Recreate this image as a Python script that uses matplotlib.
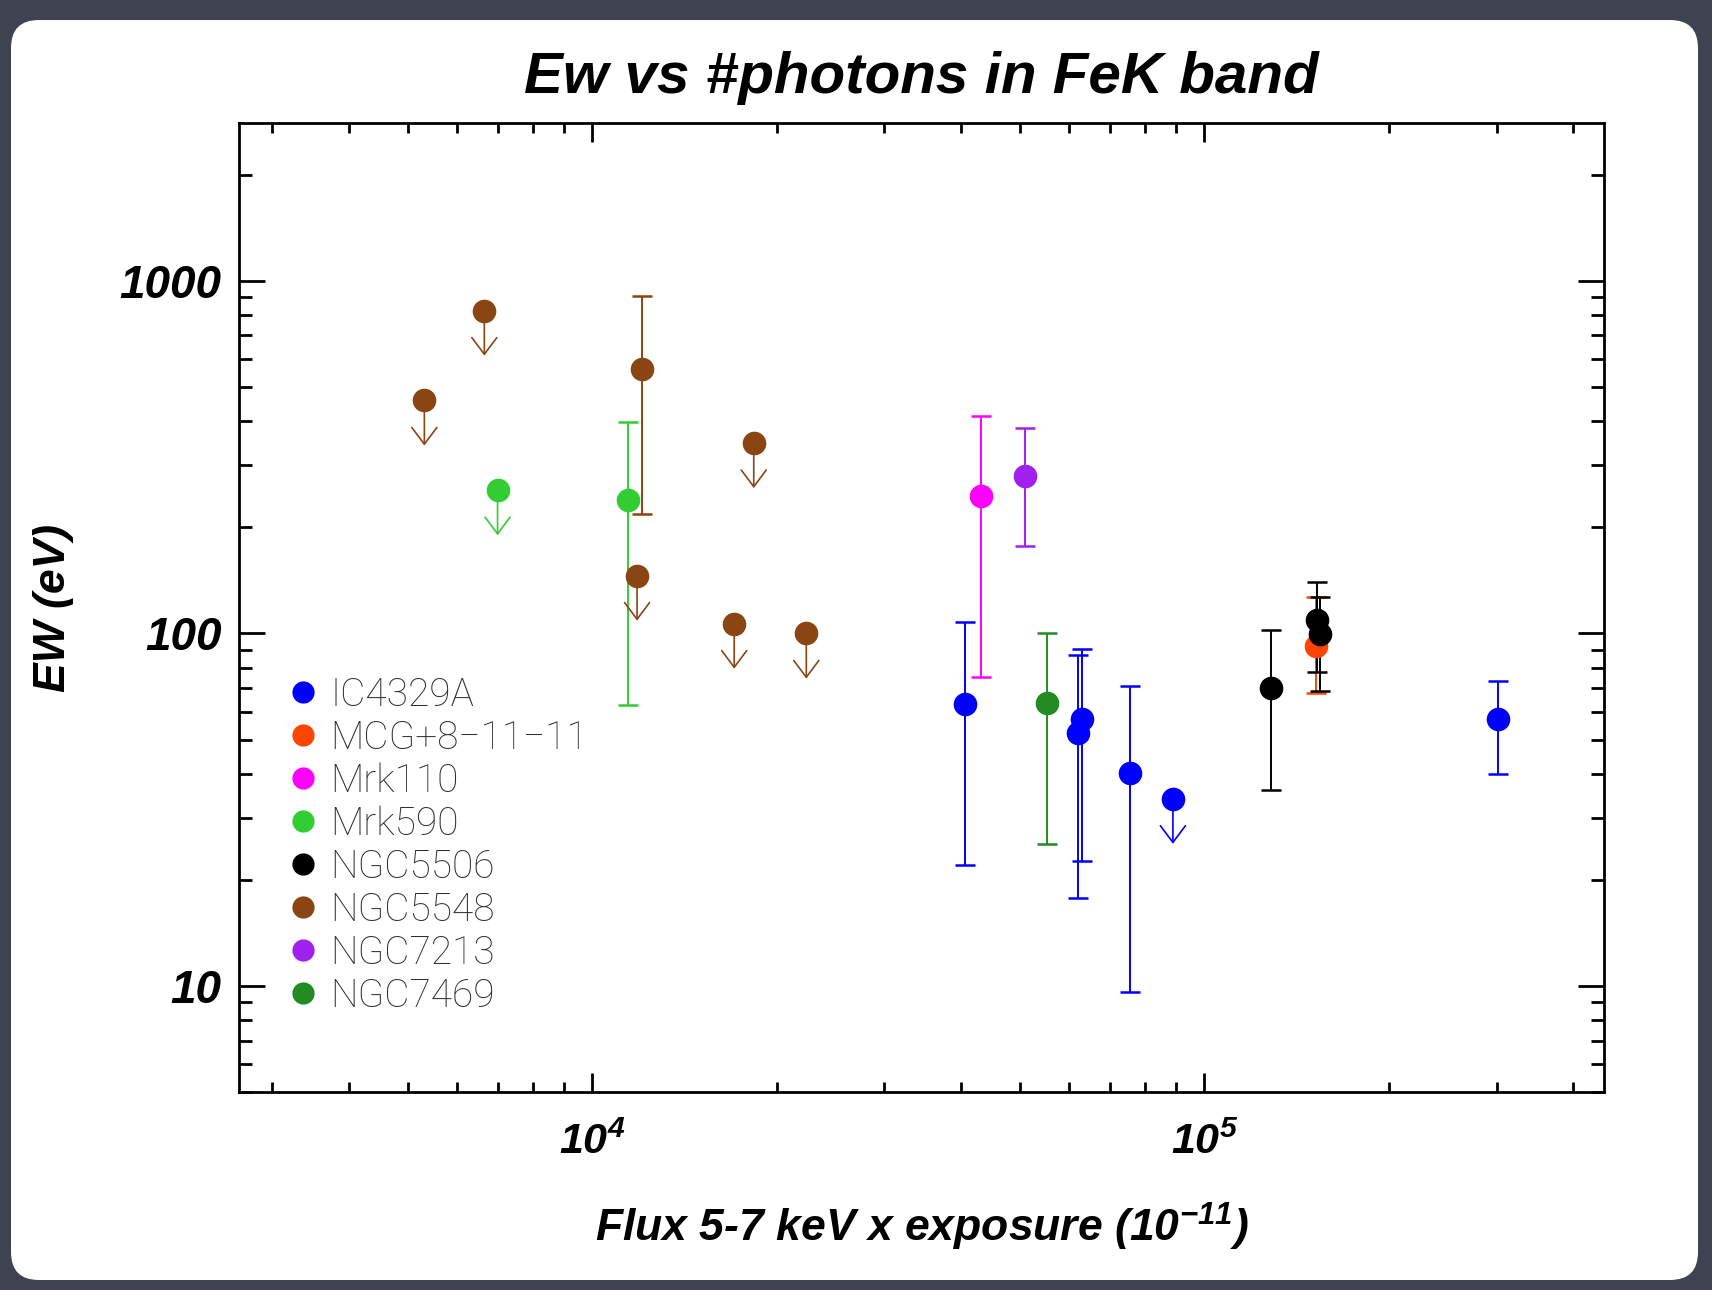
import numpy as np
import matplotlib.pyplot as plt
from matplotlib.patches import FancyBboxPatch
from matplotlib.lines import Line2D
from matplotlib.transforms import IdentityTransform
from matplotlib.ticker import FixedLocator, FixedFormatter, NullFormatter

plt.rcParams['font.family'] = 'Liberation Sans'
plt.rcParams['font.style'] = 'italic'
plt.rcParams['font.weight'] = 'bold'
plt.rcParams['axes.labelweight'] = 'bold'
plt.rcParams['mathtext.fontset'] = 'custom'
plt.rcParams['mathtext.rm'] = 'Liberation Sans:italic:bold'
plt.rcParams['mathtext.it'] = 'Liberation Sans:italic:bold'
plt.rcParams['mathtext.bf'] = 'Liberation Sans:italic:bold'

# sources (legend order) and their colours
sources = ['IC4329A', 'MCG+8\u221211\u221211', 'Mrk110', 'Mrk590',
           'NGC5506', 'NGC5548', 'NGC7213', 'NGC7469']
colors = ['#0000ff', '#ff4500', '#ff00ff', '#32cd32',
          '#000000', '#8b4513', '#a020f0', '#228b22']

# detections: flux*exposure, EW (eV), lower / upper EW bound
det_flux = {
    'IC4329A': [40600, 62100, 63200, 75700, 302000],
    'MCG+8\u221211\u221211': [152200],
    'Mrk110': [43200],
    'Mrk590': [11450],
    'NGC5506': [128500, 152900, 154600],
    'NGC5548': [12030],
    'NGC7213': [51000],
    'NGC7469': [55400],
}
det_ew = {
    'IC4329A': [62.9, 52.2, 57.3, 40.3, 57.3],
    'MCG+8\u221211\u221211': [92.4],
    'Mrk110': [246],
    'Mrk590': [239],
    'NGC5506': [69.9, 109.3, 99.7],
    'NGC5548': [564],
    'NGC7213': [280],
    'NGC7469': [63.4],
}
det_ew_lo = {
    'IC4329A': [22.1, 17.8, 22.7, 9.6, 40.0],
    'MCG+8\u221211\u221211': [68.0],
    'Mrk110': [75.4],
    'Mrk590': [62.8],
    'NGC5506': [36.0, 77.6, 68.8],
    'NGC5548': [218],
    'NGC7213': [176.6],
    'NGC7469': [25.3],
}
det_ew_hi = {
    'IC4329A': [107.6, 86.7, 90.5, 71.0, 73.5],
    'MCG+8\u221211\u221211': [126.8],
    'Mrk110': [414],
    'Mrk590': [397],
    'NGC5506': [102, 139.7, 126.8],
    'NGC5548': [905],
    'NGC7213': [383],
    'NGC7469': [100],
}

# upper limits: flux*exposure, EW (eV)
ul_flux = {
    'IC4329A': [88800],
    'Mrk590': [7000],
    'NGC5548': [5315, 6660, 11830, 18350, 17050, 22360],
}
ul_ew = {
    'IC4329A': [34],
    'Mrk590': [255],
    'NGC5548': [458, 824, 146, 347, 106.7, 100],
}

ARROW_DEX = 0.128   # length of upper-limit arrows in decades

fig = plt.figure(figsize=(17.12, 12.9), dpi=100, facecolor='#3f4250')
card = FancyBboxPatch((11, 10), 1687, 1260,
                      boxstyle='round,pad=0,rounding_size=28',
                      transform=IdentityTransform(), fc='white', ec='none',
                      zorder=-10)
fig.add_artist(card)

ax = fig.add_axes([0.1398, 0.1533, 0.7973, 0.7512])
ax.set_xscale('log')
ax.set_yscale('log')

for name, c in zip(sources, colors):
    if name in det_flux:
        y = np.array(det_ew[name])
        lo = np.array(det_ew_lo[name])
        hi = np.array(det_ew_hi[name])
        ax.errorbar(det_flux[name], y, yerr=[y - lo, hi - y], fmt='none',
                    ecolor=c, elinewidth=1.4, capsize=7.5, capthick=1.8,
                    zorder=2)
        ax.plot(det_flux[name], y, 'o', color=c, ms=17, mew=0, zorder=3)
    if name in ul_flux:
        for xv, yv in zip(ul_flux[name], ul_ew[name]):
            ax.annotate('', xy=(xv, yv * 10 ** -ARROW_DEX), xytext=(xv, yv),
                        arrowprops=dict(arrowstyle='->,head_length=0.6,head_width=0.45',
                                        color=c, lw=1.2, mutation_scale=20,
                                        shrinkA=0, shrinkB=0), zorder=2)
        ax.plot(ul_flux[name], ul_ew[name], 'o', color=c, ms=17, mew=0,
                zorder=3)

ax.set_xlim(2650, 4.5e5)
ax.set_ylim(5.0, 2800)

ax.xaxis.set_major_locator(FixedLocator([1e4, 1e5]))
ax.xaxis.set_major_formatter(FixedFormatter([r'$10^{4}$', r'$10^{5}$']))
ax.xaxis.set_minor_formatter(NullFormatter())
ax.yaxis.set_major_locator(FixedLocator([10, 100, 1000]))
ax.yaxis.set_major_formatter(FixedFormatter(['10', '100', '1000']))
ax.yaxis.set_minor_formatter(NullFormatter())

ax.tick_params(which='both', direction='in', top=True, right=True,
               width=2, color='black')
ax.tick_params(axis='x', which='major', length=14, labelsize=31, pad=22)
ax.tick_params(axis='x', which='minor', length=7)
ax.tick_params(axis='y', which='major', length=19, labelsize=33, pad=13)
ax.tick_params(axis='y', which='minor', length=9.5)
for s in ax.spines.values():
    s.set_linewidth(2)

ax.set_xlabel(r'Flux 5-7 keV x exposure (10$^{-11}$)', fontsize=32)
ax.xaxis.set_label_coords(0.5, -0.112)
ax.set_ylabel('EW (eV)', fontsize=32)
ax.yaxis.set_label_coords(-0.121, 0.5)

fig.text(0.5383, 1 - 93 / 1290, 'Ew vs #photons in FeK band',
         ha='center', va='baseline', fontsize=42)

handles = [Line2D([], [], marker='o', ls='', color=c, ms=16, mew=0)
           for c in colors]
leg = ax.legend(handles, sources, loc='upper left',
                bbox_to_anchor=(0.021, 0.449), frameon=False,
                borderpad=0, handlelength=0.8, handletextpad=0.3,
                labelspacing=0.14,
                prop=dict(family=['Roboto', 'DejaVu Sans'], weight='light',
                          style='normal', size=28))
for t in leg.get_texts():
    t.set_color('#2e2e2e')

fig.savefig('out.png', dpi=100, facecolor=fig.get_facecolor())
